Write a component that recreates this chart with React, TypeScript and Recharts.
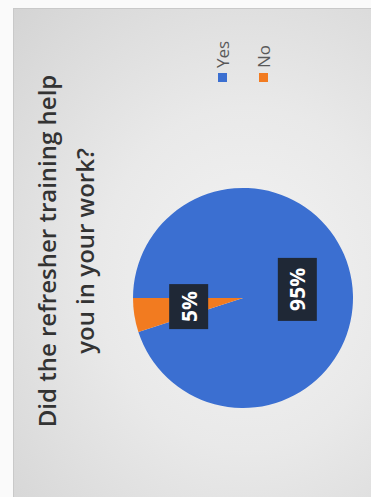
import { PieChart, Pie, Cell, Legend } from "recharts";

const categories = ["Yes", "No"];
const shares = [95, 5];
const sliceColors = ["#3b6fd1", "#f27b20"];
const titleLines = ["Did the refresher training help", "you in your work?"];

const W = 489;
const H = 358;
const RAD = Math.PI / 180;

const data = categories.map((name, i) => ({ name, value: shares[i] }));

function BoxLabel(props: any) {
  const { cx, cy, midAngle, outerRadius, percent } = props;
  const r = outerRadius * 0.5;
  const x = cx + r * Math.cos(-midAngle * RAD);
  const y = cy + r * Math.sin(-midAngle * RAD);
  const txt = `${Math.round(percent * 100)}%`;
  const w = txt.length * 18 + 9;
  const h = 39;
  return (
    <g>
      <rect x={x - w / 2} y={y - h / 2} width={w} height={h} fill="#1f2836" />
      <text
        x={x}
        y={y}
        textAnchor="middle"
        dominantBaseline="central"
        fill="#ffffff"
        fontFamily="'Open Sans', sans-serif"
        fontWeight={700}
        fontSize={21}
      >
        {txt}
      </text>
    </g>
  );
}

// keep legend in data order (Yes, then No)
function LegendList({ payload }: any) {
  const items = [...(payload || [])].sort(
    (a: any, b: any) => categories.indexOf(a.value) - categories.indexOf(b.value)
  );
  return (
    <ul style={{ listStyle: "none", margin: 0, padding: 0 }}>
      {items.map((p: any) => (
        <li
          key={p.value}
          style={{
            display: "flex",
            alignItems: "center",
            height: 20,
            marginBottom: 21,
            fontFamily: "'Open Sans', sans-serif",
            fontSize: 17,
            color: "#595959",
          }}
        >
          <span style={{ width: 9, height: 9, background: p.color, marginRight: 5, display: "inline-block" }} />
          {p.value}
        </li>
      ))}
    </ul>
  );
}

export default function App() {
  return (
    <div style={{ position: "absolute", left: 0, top: 0, width: 371, height: 497, background: "#fafafa", overflow: "hidden" }}>
      <div
        style={{
          position: "absolute",
          left: 13,
          top: 8,
          width: H,
          height: W,
          borderLeft: "1px solid #c9c9c9",
          borderTop: "1px solid #c9c9c9",
          background: "radial-gradient(ellipse at 65% 55%, #f3f3f3 0%, #e9e9e9 45%, #d4d4d4 100%)",
        }}
      >
        <div
          style={{
            position: "absolute",
            left: 0,
            top: 0,
            width: W,
            height: H,
            transformOrigin: "0 0",
            transform: `translate(0px, ${W}px) rotate(-90deg)`,
          }}
        >
          <div
            style={{
              position: "absolute",
              left: 0,
              top: 14,
              width: 494,
              textAlign: "center",
              fontFamily: "'Open Sans', sans-serif",
              fontWeight: 600,
              fontSize: 24,
              lineHeight: "38px",
              color: "#333333",
            }}
          >
            {titleLines.map(t => (
              <div key={t}>{t}</div>
            ))}
          </div>
          <PieChart
            width={W}
            height={H}
            margin={{ top: 0, right: 0, bottom: 0, left: 0 }}
            style={{ position: "absolute", left: 0, top: 0 }}
          >
            <Pie
              data={data}
              dataKey="value"
              nameKey="name"
              cx={200}
              cy={229}
              outerRadius={110}
              startAngle={90}
              endAngle={-270}
              stroke="none"
              label={BoxLabel}
              labelLine={false}
              isAnimationActive={false}
            >
              {data.map((d, i) => (
                <Cell key={d.name} fill={sliceColors[i]} />
              ))}
            </Pie>
            <Legend content={LegendList} wrapperStyle={{ left: 416, top: 198, width: 70 }} />
          </PieChart>
        </div>
      </div>
    </div>
  );
}
